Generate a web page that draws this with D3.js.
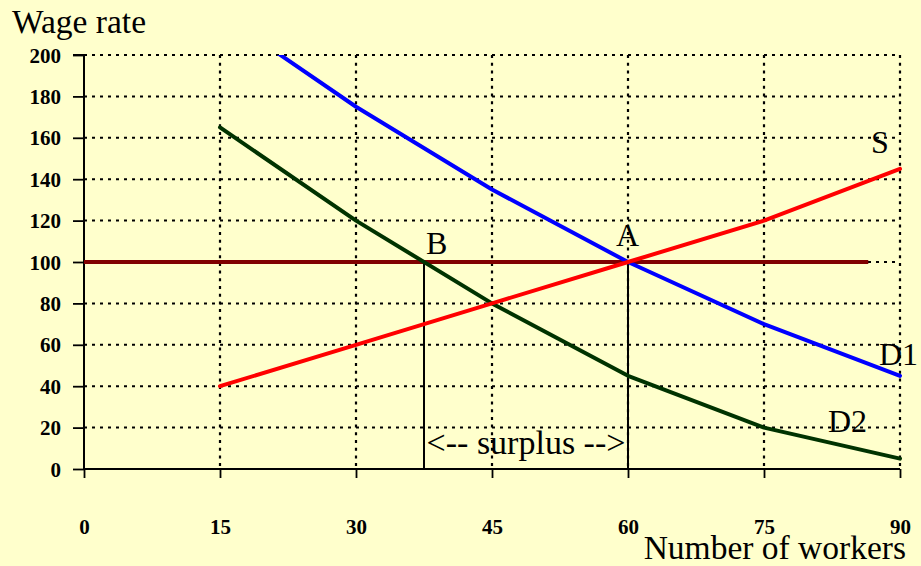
<!DOCTYPE html>
<html><head><meta charset="utf-8">
<script src="https://cdn.jsdelivr.net/npm/d3@7"></script>
<style>
html,body{margin:0;padding:0;background:#FFFFCC;}
svg{display:block;}
text{font-family:"Liberation Serif","Times New Roman",serif;fill:#000;}
</style></head>
<body><svg id="c" width="921" height="566"></svg>
<script>
// Data
const workers = [15, 30, 45, 60, 75, 90];
const supply = [40, 60, 80, 100, 120, 145];
const demand1 = [220, 175, 135, 100, 70, 45];
const demand2 = [165, 120, 80, 45, 20, 5];
const wageLevel = 100;
const wageRange = [0, 86.5];
const surplusRange = [37.5, 60];
const xTicks = [0, 15, 30, 45, 60, 75, 90];
const yTicks = [0, 20, 40, 60, 80, 100, 120, 140, 160, 180, 200];
const pointLabels = [
  {t: "B", x: 37.5, y: 100},
  {t: "A", x: 60, y: 100}
];
const seriesLabels = ["S", "D1", "D2"];

const svg = d3.select("#c");
const L = 84, R = 900, T = 55, B = 469;
const x = d3.scaleLinear().domain([0, 90]).range([L, R]);
const y = d3.scaleLinear().domain([0, 200]).range([B, T]);

svg.append("rect").attr("width", 921).attr("height", 566).attr("fill", "#FFFFCC");

// horizontal gridlines
svg.append("g").selectAll("line").data(yTicks.filter(d => d > 0)).join("line")
  .attr("x1", x(0)).attr("x2", x(90)).attr("y1", d => y(d)).attr("y2", d => y(d))
  .attr("stroke", "#000").attr("stroke-width", 2).attr("stroke-dasharray", "3,5");
// vertical gridlines
svg.append("g").selectAll("line").data(xTicks.filter(d => d > 0)).join("line")
  .attr("x1", d => x(d)).attr("x2", d => x(d)).attr("y1", y(200)).attr("y2", y(0))
  .attr("stroke", "#000").attr("stroke-width", 2.2).attr("stroke-dasharray", "3,4.7");

// axes
const yAxis = d3.axisLeft(y).tickValues(yTicks).tickSize(11).tickPadding(12).tickFormat(d3.format("d"));
const gy = svg.append("g").attr("transform", `translate(${L},0)`).call(yAxis);
gy.select(".domain").attr("stroke-width", 2).attr("d", `M-11,${T}H0V${B}`);
gy.selectAll(".tick line").attr("stroke-width", 1.8);
gy.selectAll(".tick text").attr("font-family", "Liberation Serif").attr("font-weight", "bold").attr("font-size", 21).attr("dy", "0.34em");

const xAxis = d3.axisBottom(x).tickValues(xTicks).tickSize(9).tickPadding(41).tickFormat(d3.format("d"));
const gx = svg.append("g").attr("transform", `translate(0,${B})`).call(xAxis);
gx.select(".domain").attr("stroke-width", 2).attr("d", `M${L},0H${R}`);
gx.selectAll(".tick line").attr("stroke-width", 1.8);
gx.selectAll(".tick text").attr("font-family", "Liberation Serif").attr("font-weight", "bold").attr("font-size", 21);

// clip
svg.append("clipPath").attr("id", "clip").append("rect")
  .attr("x", L).attr("y", T).attr("width", R - L + 3).attr("height", B - T);

// vertical black lines at B and A
svg.append("g").selectAll("line").data(surplusRange).join("line")
  .attr("x1", d => x(d)).attr("x2", d => x(d)).attr("y1", y(wageLevel)).attr("y2", y(0))
  .attr("stroke", "#000").attr("stroke-width", 2);

// wage line
svg.append("line").attr("x1", x(wageRange[0])).attr("x2", x(wageRange[1]))
  .attr("y1", y(wageLevel)).attr("y2", y(wageLevel))
  .attr("stroke", "#800000").attr("stroke-width", 4);

const line = d3.line().x(d => x(d[0])).y(d => y(d[1]));
const g = svg.append("g").attr("clip-path", "url(#clip)");
[[demand2, "#003300"], [demand1, "#0000FF"], [supply, "#FF0000"]].forEach(([vals, col]) => {
  g.append("path").datum(workers.map((w, i) => [w, vals[i]]))
    .attr("d", line).attr("fill", "none").attr("stroke", col).attr("stroke-width", 4)
    .attr("stroke-linejoin", "round").attr("stroke-linecap", "round");
});

// labels
svg.append("text").attr("x", 12).attr("y", 33).attr("font-size", 33.5).text("Wage rate");
svg.append("text").attr("x", 906).attr("y", 559).attr("font-size", 33.5).attr("text-anchor", "end").text("Number of workers");
svg.append("text").attr("x", x(pointLabels[0].x) + 2).attr("y", 254).attr("font-size", 32).text(pointLabels[0].t);
svg.append("text").attr("x", x(pointLabels[1].x) - 12).attr("y", 246).attr("font-size", 32).text(pointLabels[1].t);
svg.append("text").attr("x", 871).attr("y", 153).attr("font-size", 32).text(seriesLabels[0]);
svg.append("text").attr("x", 879).attr("y", 365).attr("font-size", 32).text(seriesLabels[1]);
svg.append("text").attr("x", 828).attr("y", 432).attr("font-size", 32).text(seriesLabels[2]);
svg.append("text").attr("x", (x(surplusRange[0]) + x(surplusRange[1])) / 2).attr("y", 454)
  .attr("font-size", 34).attr("text-anchor", "middle").text("<-- surplus -->");
</script></body></html>
